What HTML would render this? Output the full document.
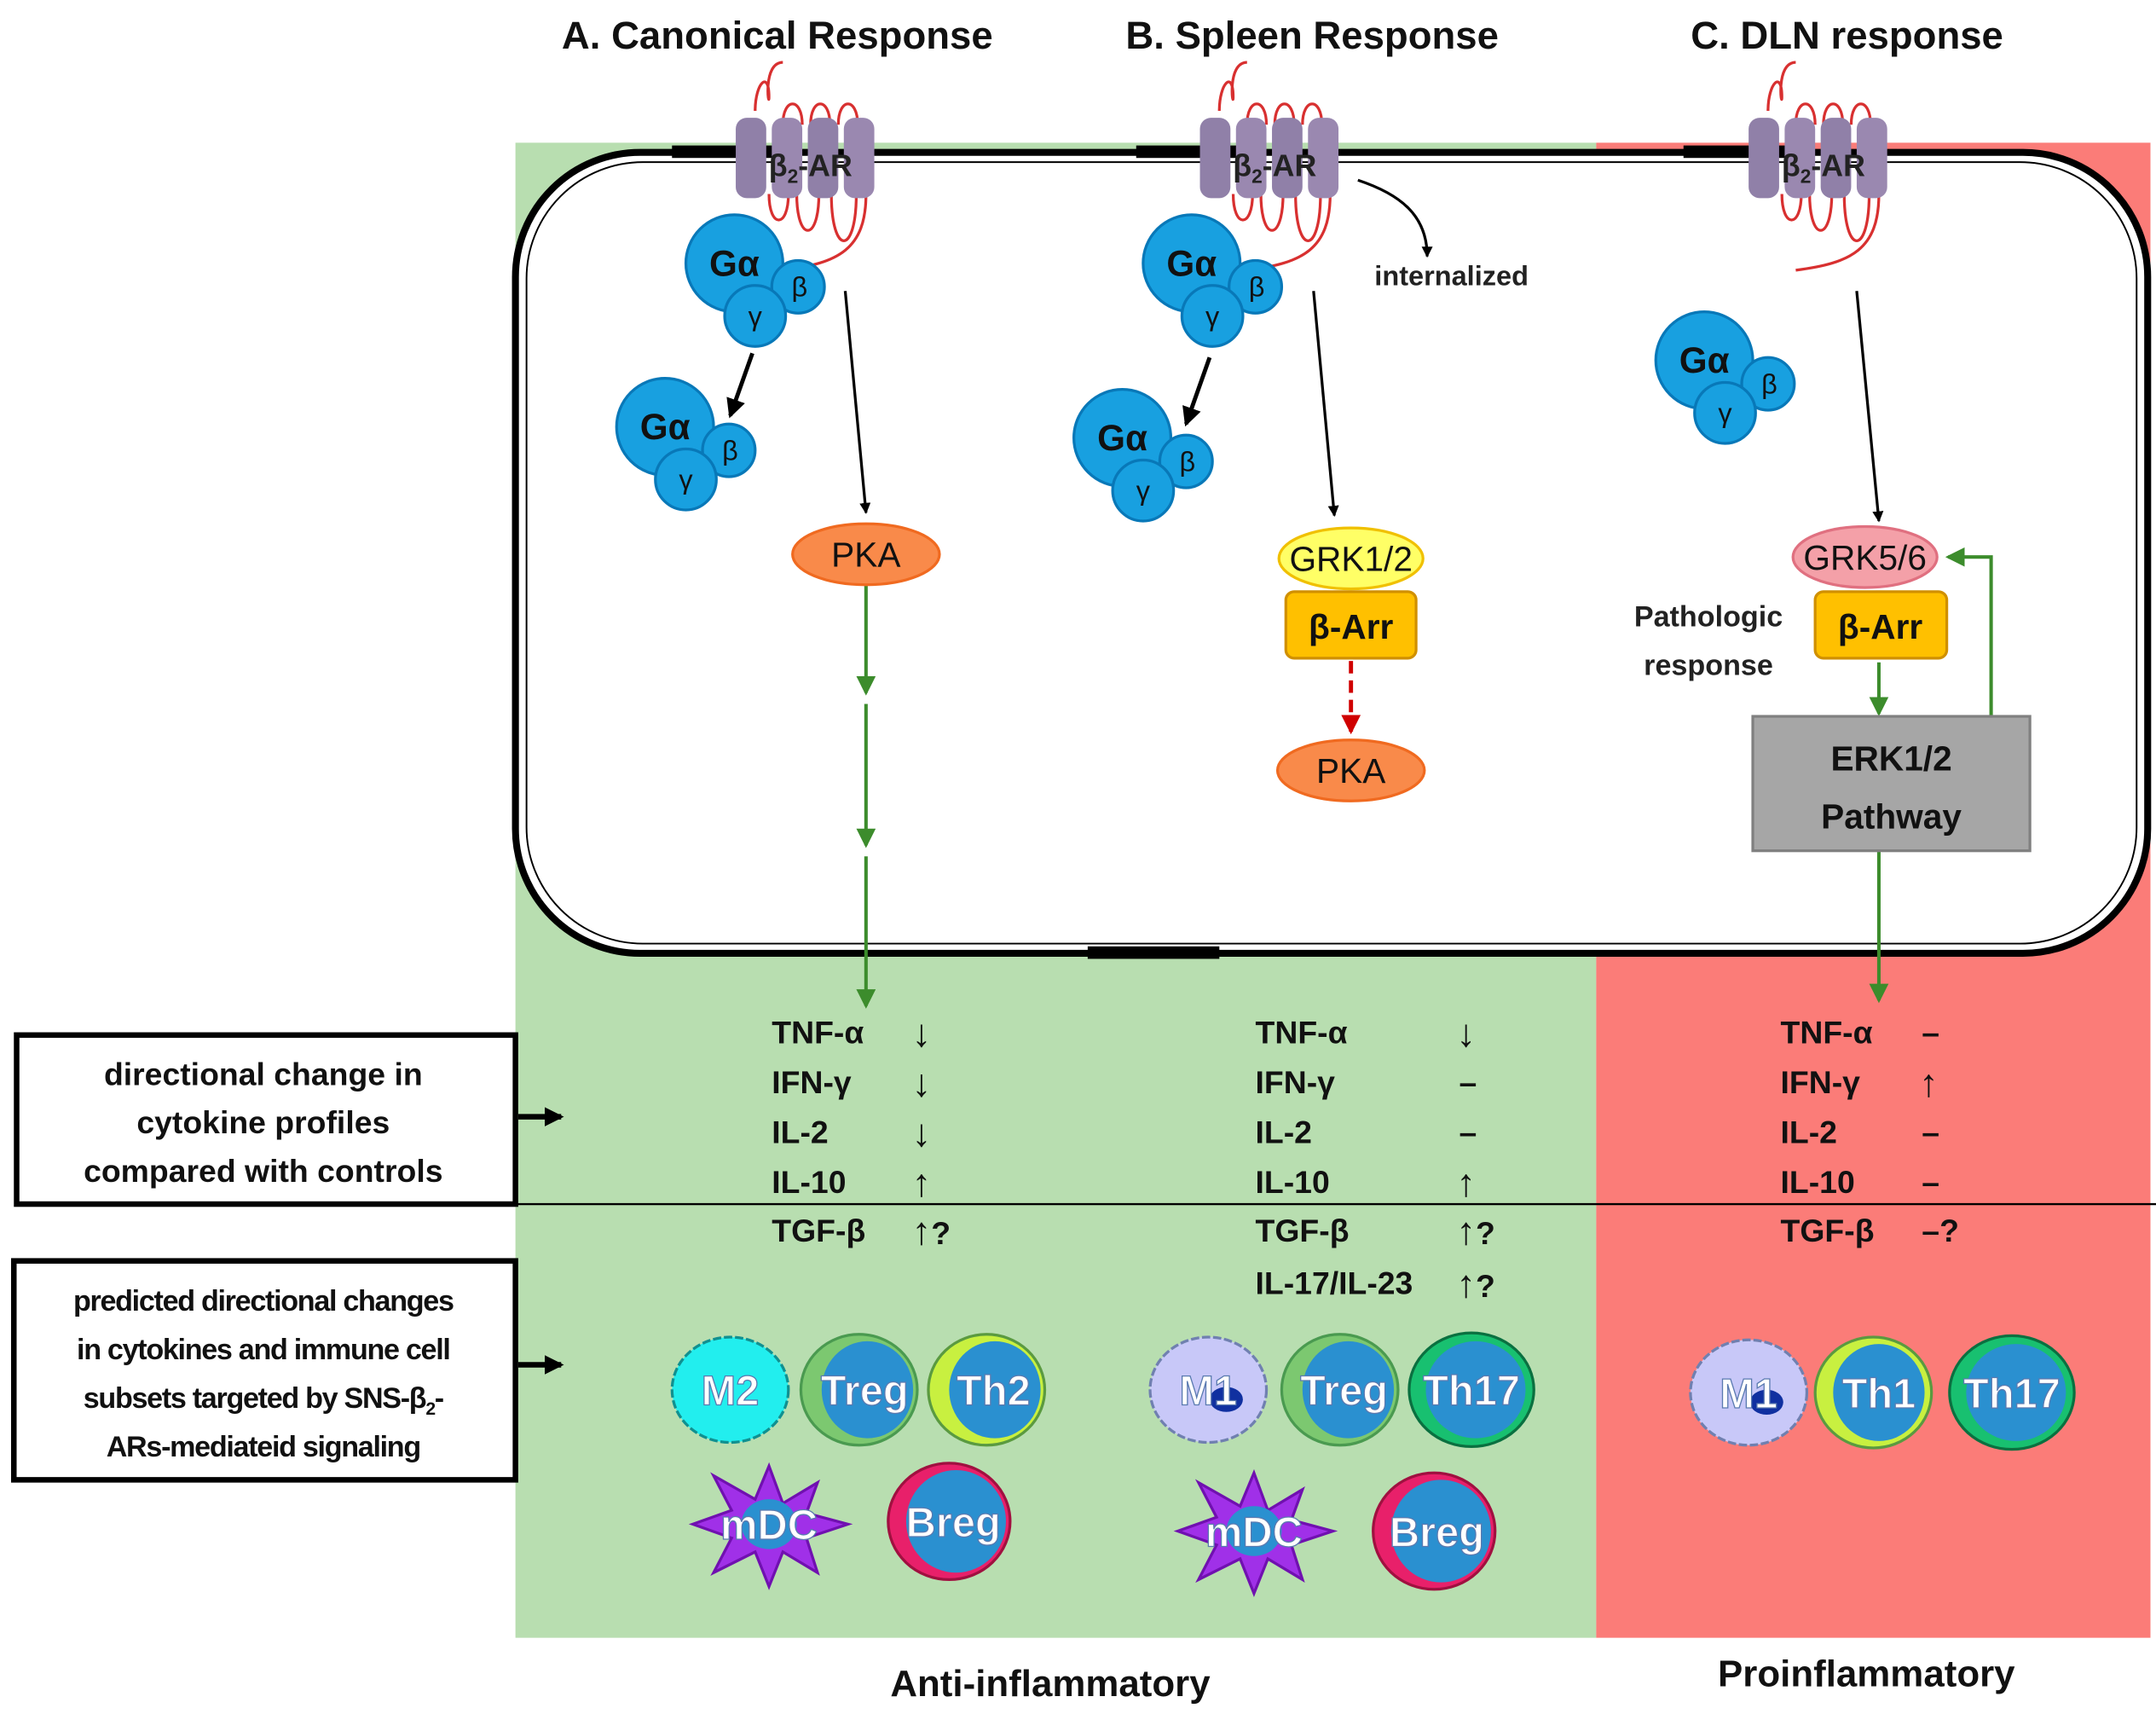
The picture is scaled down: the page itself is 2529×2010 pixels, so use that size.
<!DOCTYPE html>
<html><head><meta charset="utf-8"><style>html,body{margin:0;padding:0;background:#fff}svg{display:block}text{font-family:"Liberation Sans",sans-serif}</style></head>
<body>
<svg width="2529" height="2010" viewBox="0 0 1556 1237" preserveAspectRatio="none" xmlns="http://www.w3.org/2000/svg">
<defs>
<marker id="ab" markerWidth="8" markerHeight="8" refX="7" refY="4" orient="auto" markerUnits="userSpaceOnUse"><path d="M0,0 L8,4 L0,8 z" fill="#000"/></marker>
<marker id="ag" markerWidth="14" markerHeight="14" refX="12" refY="7" orient="auto" markerUnits="userSpaceOnUse"><path d="M0,0 L14,7 L0,14 z" fill="#3c8c2c"/></marker>
<marker id="ar" markerWidth="14" markerHeight="14" refX="12" refY="7" orient="auto" markerUnits="userSpaceOnUse"><path d="M0,0 L14,7 L0,14 z" fill="#d00000"/></marker>
<marker id="ak" markerWidth="14" markerHeight="14" refX="12" refY="7" orient="auto" markerUnits="userSpaceOnUse"><path d="M0,0 L14,7 L0,14 z" fill="#000"/></marker>
<g id="rec">
<path d="M-40,-30 c0,-20 10,-30 10,-10 c0,10 -5,-25 10,-25 M-20,-20 c0,-20 14,-20 14,0 M0,-20 c0,-20 14,-20 14,0 M20,-20 c0,-20 14,-20 14,0 M-30,30 c0,25 14,25 14,0 M-10,30 c0,35 16,35 16,0 M15,30 c0,45 18,45 18,0 M40,30 c0,40 -20,50 -60,55" fill="none" stroke="#d83030" stroke-width="2"/>
<rect x="-54" y="-25" width="22" height="58" rx="8" fill="#9080a8"/><rect x="-28" y="-25" width="22" height="58" rx="8" fill="#9a88b0"/><rect x="-2" y="-25" width="22" height="58" rx="8" fill="#9080a8"/><rect x="24" y="-25" width="22" height="58" rx="8" fill="#9a88b0"/>
</g>
<g id="gp"><g stroke="#0878b8" stroke-width="2" fill="#18a0e0"><circle cx="0" cy="0" r="35"/><circle cx="46" cy="17" r="19"/><circle cx="15" cy="38" r="22"/></g>
<text x="0" y="9" font-size="26" font-weight="bold" text-anchor="middle" fill="#111">Gα</text><text x="47" y="24" font-size="20" text-anchor="middle" fill="#111">β</text><text x="15" y="45" font-size="20" text-anchor="middle" fill="#111">γ</text></g>
</defs>
<rect x="372" y="103" width="780" height="1079" fill="#b8deb0"/>
<rect x="1152" y="103" width="400" height="1079" fill="#fb7c78"/>
<rect x="372" y="110" width="1178" height="578" rx="90" fill="#fff" stroke="#000" stroke-width="5"/>
<rect x="380" y="117" width="1162" height="564" rx="84" fill="none" stroke="#000" stroke-width="1.2"/>
<rect x="785" y="683" width="95" height="9" fill="#000"/>
<rect x="485" y="105" width="90" height="9" fill="#000"/><rect x="820" y="105" width="90" height="9" fill="#000"/><rect x="1215" y="105" width="90" height="9" fill="#000"/>
<text font-size="28" font-weight="bold" fill="#111" text-anchor="middle"><tspan x="561" y="35">A.  Canonical Response</tspan><tspan x="947" y="35">B.  Spleen Response</tspan><tspan x="1333" y="35">C.  DLN response</tspan></text>
<use href="#rec" x="585" y="110"/><use href="#rec" x="920" y="110"/><use href="#rec" x="1316" y="110"/>
<g font-size="22" fill="#222" font-weight="bold" text-anchor="middle"><text x="585" y="127">β<tspan font-size="14" dy="5">2</tspan><tspan dy="-5">-AR</tspan></text><text x="920" y="127">β<tspan font-size="14" dy="5">2</tspan><tspan dy="-5">-AR</tspan></text><text x="1316" y="127">β<tspan font-size="14" dy="5">2</tspan><tspan dy="-5">-AR</tspan></text></g>
<use href="#gp" x="530" y="190"/><use href="#gp" x="480" y="308"/><use href="#gp" x="860" y="190"/><use href="#gp" x="810" y="316"/><use href="#gp" x="1230" y="260"/>
<g stroke="#000" stroke-width="2" fill="none">
<line x1="610" y1="210" x2="625" y2="370" marker-end="url(#ab)"/><line x1="543" y1="255" x2="527" y2="300" marker-end="url(#ak)" stroke-width="3"/>
<line x1="948" y1="210" x2="963" y2="372" marker-end="url(#ab)"/><line x1="873" y1="258" x2="856" y2="306" marker-end="url(#ak)" stroke-width="3"/>
<line x1="1340" y1="210" x2="1356" y2="376" marker-end="url(#ab)"/>
<path d="M980,130 C1010,140 1030,155 1030,185" marker-end="url(#ab)"/>
</g>
<text x="992" y="206" font-size="20" font-weight="bold" fill="#222">internalized</text>
<g stroke="#3c8c2c" stroke-width="2.5" fill="none">
<line x1="625" y1="422" x2="625" y2="500" marker-end="url(#ag)"/><line x1="625" y1="508" x2="625" y2="610" marker-end="url(#ag)"/><line x1="625" y1="618" x2="625" y2="726" marker-end="url(#ag)"/>
<line x1="1356" y1="478" x2="1356" y2="515" marker-end="url(#ag)"/><path d="M1437,517 V402 H1406" marker-end="url(#ag)"/><line x1="1356" y1="614" x2="1356" y2="722" marker-end="url(#ag)"/>
</g>
<line x1="975" y1="477" x2="975" y2="528" stroke="#d00000" stroke-width="3" stroke-dasharray="9,5" marker-end="url(#ar)"/>
<ellipse cx="625" cy="400" rx="53" ry="22" fill="#f98a4a" stroke="#f06a20" stroke-width="2"/>
<ellipse cx="975" cy="556" rx="53" ry="22" fill="#f98a4a" stroke="#f06a20" stroke-width="2"/>
<ellipse cx="975" cy="403" rx="52" ry="22" fill="#ffff66" stroke="#f0c000" stroke-width="2"/>
<ellipse cx="1346" cy="402" rx="52" ry="22" fill="#f4a0a8" stroke="#e07080" stroke-width="2"/>
<rect x="928" y="427" width="94" height="48" rx="6" fill="#ffc000" stroke="#d09000" stroke-width="2"/>
<rect x="1310" y="427" width="95" height="48" rx="6" fill="#ffc000" stroke="#d09000" stroke-width="2"/>
<rect x="1265" y="517" width="200" height="97" fill="#a6a6a6" stroke="#808080" stroke-width="2"/>
<g font-size="25" fill="#111" text-anchor="middle"><text x="625" y="409">PKA</text><text x="975" y="565">PKA</text><text x="975" y="412">GRK1/2</text><text x="1346" y="411">GRK5/6</text>
<text x="975" y="461" font-weight="bold">β-Arr</text><text x="1357" y="461" font-weight="bold">β-Arr</text>
<text x="1365" y="556" font-weight="bold">ERK1/2</text><text x="1365" y="598" font-weight="bold">Pathway</text></g>
<text font-size="21" font-weight="bold" fill="#222" text-anchor="middle"><tspan x="1233" y="452">Pathologic</tspan><tspan x="1233" y="487">response</tspan></text>
<line x1="372" y1="869" x2="1556" y2="869" stroke="#000" stroke-width="1.5"/>
<rect x="12" y="747" width="360" height="122" fill="#fff" stroke="#000" stroke-width="4"/>
<rect x="10" y="910" width="362" height="158" fill="#fff" stroke="#000" stroke-width="4"/>
<g font-size="23" font-weight="bold" fill="#111" text-anchor="middle"><text x="190" y="783">directional change in</text><text x="190" y="818">cytokine profiles</text><text x="190" y="853">compared with controls</text></g>
<g font-size="21" font-weight="bold" fill="#111" text-anchor="middle" letter-spacing="-0.8"><text x="190" y="946">predicted directional changes</text><text x="190" y="981">in cytokines and immune cell</text><text x="190" y="1016">subsets targeted by SNS-β<tspan font-size="13" dy="5">2</tspan><tspan dy="-5">-</tspan></text><text x="190" y="1051">ARs-mediateid signaling</text></g>
<g stroke="#000" stroke-width="4"><line x1="374" y1="806" x2="405" y2="806" marker-end="url(#ak)"/><line x1="374" y1="985" x2="405" y2="985" marker-end="url(#ak)"/></g>
<g font-size="23" font-weight="bold" fill="#111">
<text x="557" y="753">TNF-α</text><text x="557" y="789">IFN-γ</text><text x="557" y="825">IL-2</text><text x="557" y="861">IL-10</text><text x="557" y="896">TGF-β</text>
<text x="906" y="753">TNF-α</text><text x="906" y="789">IFN-γ</text><text x="906" y="825">IL-2</text><text x="906" y="861">IL-10</text><text x="906" y="896">TGF-β</text><text x="906" y="934">IL-17/IL-23</text>
<text x="1285" y="753">TNF-α</text><text x="1285" y="789">IFN-γ</text><text x="1285" y="825">IL-2</text><text x="1285" y="861">IL-10</text><text x="1285" y="896">TGF-β</text>
</g>
<g font-size="28" font-weight="bold" fill="#111">
<text x="658" y="755">↓</text><text x="658" y="791">↓</text><text x="658" y="827">↓</text><text x="658" y="863">↑</text><text x="658" y="898">↑<tspan font-size="23">?</tspan></text>
<text x="1051" y="755">↓</text><text x="1053" y="789" font-size="23">–</text><text x="1053" y="825" font-size="23">–</text><text x="1051" y="863">↑</text><text x="1051" y="898">↑<tspan font-size="23">?</tspan></text><text x="1051" y="936">↑<tspan font-size="23">?</tspan></text>
<text x="1387" y="753" font-size="23">–</text><text x="1385" y="791">↑</text><text x="1387" y="825" font-size="23">–</text><text x="1387" y="861" font-size="23">–</text><text x="1387" y="896" font-size="23">–?</text>
</g>
<g stroke-width="2">
<ellipse cx="527" cy="1003" rx="42" ry="38" fill="#22eeee" stroke="#109090" stroke-dasharray="6,2"/>
<ellipse cx="620" cy="1003" rx="42" ry="40" fill="#7cc870" stroke="#4a9a50"/><ellipse cx="626" cy="1003" rx="33" ry="35" fill="#2a90d0"/>
<ellipse cx="712" cy="1003" rx="42" ry="40" fill="#c8f040" stroke="#5a9a40"/><ellipse cx="718" cy="1003" rx="33" ry="35" fill="#2a90d0"/>
<polygon points="555,1058 565,1085 590,1070 582,1092 612,1100 582,1110 590,1135 565,1120 555,1145 545,1120 515,1135 528,1110 500,1100 528,1090 515,1065 545,1082" fill="#a030e8" stroke="#7010b0"/><ellipse cx="555" cy="1100" rx="20" ry="18" fill="#2a90d0"/>
<ellipse cx="685" cy="1098" rx="44" ry="42" fill="#e8206a" stroke="#a01040"/><ellipse cx="690" cy="1098" rx="36" ry="37" fill="#2a90d0"/>
<ellipse cx="872" cy="1003" rx="42" ry="38" fill="#c8c8f8" stroke="#7080b0" stroke-dasharray="6,2"/><ellipse cx="885" cy="1010" rx="12" ry="9" fill="#1030a0"/>
<ellipse cx="967" cy="1003" rx="42" ry="40" fill="#7cc870" stroke="#4a9a50"/><ellipse cx="973" cy="1003" rx="33" ry="35" fill="#2a90d0"/>
<ellipse cx="1062" cy="1003" rx="45" ry="41" fill="#18c070" stroke="#0a7040"/><ellipse cx="1065" cy="1003" rx="36" ry="35" fill="#2a90d0"/>
<polygon points="905,1063 915,1090 940,1075 932,1097 962,1105 932,1115 940,1140 915,1125 905,1150 895,1125 865,1140 878,1115 850,1105 878,1095 865,1070 895,1087" fill="#a030e8" stroke="#7010b0"/><ellipse cx="905" cy="1105" rx="20" ry="18" fill="#2a90d0"/>
<ellipse cx="1035" cy="1105" rx="44" ry="42" fill="#e8206a" stroke="#a01040"/><ellipse cx="1040" cy="1105" rx="36" ry="37" fill="#2a90d0"/>
<ellipse cx="1262" cy="1005" rx="42" ry="38" fill="#c8c8f8" stroke="#7080b0" stroke-dasharray="6,2"/><ellipse cx="1275" cy="1012" rx="12" ry="9" fill="#1030a0"/>
<ellipse cx="1352" cy="1005" rx="42" ry="40" fill="#c8f040" stroke="#5a9a40"/><ellipse cx="1356" cy="1005" rx="33" ry="35" fill="#2a90d0"/>
<ellipse cx="1452" cy="1005" rx="45" ry="41" fill="#18c070" stroke="#0a7040"/><ellipse cx="1455" cy="1005" rx="36" ry="35" fill="#2a90d0"/>
</g>
<g font-size="30" font-weight="bold" fill="#fff" text-anchor="middle" stroke="#5a7ab0" stroke-width="0.8">
<text x="527" y="1014">M2</text><text x="624" y="1014">Treg</text><text x="717" y="1014">Th2</text><text x="555" y="1111">mDC</text><text x="688" y="1109">Breg</text>
<text x="872" y="1014">M1</text><text x="970" y="1014">Treg</text><text x="1062" y="1014">Th17</text><text x="905" y="1116">mDC</text><text x="1037" y="1116">Breg</text>
<text x="1262" y="1016">M1</text><text x="1356" y="1016">Th1</text><text x="1452" y="1016">Th17</text>
</g>
<text x="758" y="1224" font-size="27" font-weight="bold" fill="#111" text-anchor="middle">Anti-inflammatory</text>
<text x="1347" y="1217" font-size="27" font-weight="bold" fill="#111" text-anchor="middle">Proinflammatory</text>
</svg>
</body></html>
